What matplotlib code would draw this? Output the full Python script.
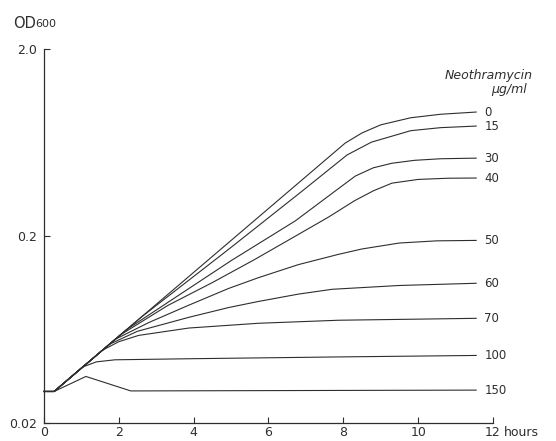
import matplotlib
matplotlib.use('Agg')
import matplotlib.pyplot as plt
from matplotlib.ticker import NullLocator

plt.rcParams['font.family'] = ['DejaVu Sans']

# ---- data (hours, OD600) ----
concentrations = ['0', '15', '30', '40', '50', '60', '70', '100', '150']

hours_0 = [0, 0.27, 8.05, 8.5, 9.0, 9.8, 10.6, 11.55]
od_0 = [0.0295, 0.0295, 0.631, 0.715, 0.79, 0.862, 0.90, 0.925]

hours_15 = [0, 0.27, 2.6, 4.93, 6.93, 8.1, 8.75, 9.8, 10.6, 11.55]
od_15 = [0.0295, 0.0295, 0.0738, 0.17, 0.353, 0.545, 0.638, 0.735, 0.763, 0.778]

hours_30 = [0, 0.27, 2.2, 5.0, 6.72, 7.87, 8.32, 8.8, 9.3, 9.9, 10.6, 11.55]
od_30 = [0.0295, 0.0295, 0.0631, 0.148, 0.242, 0.36, 0.42, 0.465, 0.492, 0.51, 0.52, 0.524]

hours_40 = [0, 0.27, 2.05, 3.3, 4.5, 5.6, 6.5, 7.6, 8.3, 8.8, 9.3, 10.0, 10.8, 11.55]
od_40 = [0.0295, 0.0295, 0.0594, 0.085, 0.113, 0.149, 0.189, 0.253, 0.31, 0.35, 0.385,
         0.403, 0.409, 0.41]

hours_50 = [0, 0.27, 1.9, 2.8, 3.87, 4.93, 5.73, 6.8, 7.87, 8.5, 9.5, 10.5, 11.55]
od_50 = [0.0295, 0.0295, 0.0561, 0.069, 0.0855, 0.105, 0.12, 0.141, 0.16, 0.171, 0.184, 0.189, 0.19]

hours_60 = [0, 0.27, 1.75, 2.5, 3.87, 4.93, 5.73, 6.8, 7.7, 9.5, 11.55]
od_60 = [0.0295, 0.0295, 0.0528, 0.062, 0.0736, 0.083, 0.0895, 0.098, 0.104, 0.109, 0.112]

hours_70 = [0, 0.27, 1.55, 2.0, 2.53, 3.87, 5.73, 7.87, 11.55]
od_70 = [0.0295, 0.0295, 0.0489, 0.0545, 0.0589, 0.0645, 0.0684, 0.071, 0.0727]

hours_100 = [0, 0.27, 1.02, 1.4, 1.9, 4.0, 8.0, 11.55]
od_100 = [0.0295, 0.0295, 0.0398, 0.0425, 0.0436, 0.0442, 0.0452, 0.046]

hours_150 = [0, 0.27, 1.12, 2.32, 11.55]
od_150 = [0.0295, 0.0295, 0.0355, 0.0297, 0.030]

series_hours = [hours_0, hours_15, hours_30, hours_40, hours_50,
                hours_60, hours_70, hours_100, hours_150]
series_od = [od_0, od_15, od_30, od_40, od_50, od_60, od_70, od_100, od_150]

x_ticks = [0, 2, 4, 6, 8, 10, 12]
x_tick_labels = ['0', '2', '4', '6', '8', '10', '12']
y_ticks = [0.02, 0.2, 2.0]
y_tick_labels = ['0.02', '0.2', '2.0']

# ---- figure ----
W, H = 556, 441
fig = plt.figure(figsize=(W / 100, H / 100), dpi=100)
left, right, top, bottom = 44, 493, 49.5, 423
ax = fig.add_axes([left / W, (H - bottom) / H, (right - left) / W, (bottom - top) / H])

ink = '#2e2e2e'
for hrs, od, lab in zip(series_hours, series_od, concentrations):
    ax.plot(hrs, od, color=ink, lw=0.8, solid_joinstyle='round', clip_on=False)
    ax.annotate(lab, xy=(hrs[-1], od[-1]), xytext=(6, 0), textcoords='offset points',
                ha='left', va='center', fontsize=8.5, color=ink, annotation_clip=False)

ax.set_yscale('log')
ax.set_xlim(0, 12)
ax.set_ylim(0.02, 2.0)
ax.set_xticks(x_ticks)
ax.set_xticklabels(x_tick_labels)
ax.set_yticks(y_ticks)
ax.set_yticklabels(y_tick_labels)
ax.yaxis.set_minor_locator(NullLocator())
ax.tick_params(direction='in', length=4, width=0.8, colors=ink, labelsize=9)
ax.tick_params(axis='x', pad=2.5)
ax.tick_params(axis='y', pad=5)
for s in ['top', 'right']:
    ax.spines[s].set_visible(False)
for s in ['left', 'bottom']:
    ax.spines[s].set_color(ink)
    ax.spines[s].set_linewidth(0.9)

# "hours" after the 12 tick label
ax.annotate('hours', xy=(12, 0.02), xycoords='data', xytext=(8, -2.5),
            textcoords='offset points', ha='left', va='top', fontsize=9, color=ink,
            annotation_clip=False)

# y-axis title OD600
fig.text(13 / W, 1 - 27.5 / H, 'OD', fontsize=10.5, color=ink, va='baseline', ha='left')
fig.text(35 / W, 1 - 27 / H, '600', fontsize=8, color=ink, va='baseline', ha='left')

# legend title
fig.text(445 / W, 1 - 75 / H, 'Neothramycin', fontsize=9, style='italic', color=ink,
         va='center', ha='left')
fig.text(527 / W, 1 - 89 / H, 'µg/ml', fontsize=9, style='italic', color=ink,
         va='center', ha='right')

fig.savefig('out.png', dpi=100)
